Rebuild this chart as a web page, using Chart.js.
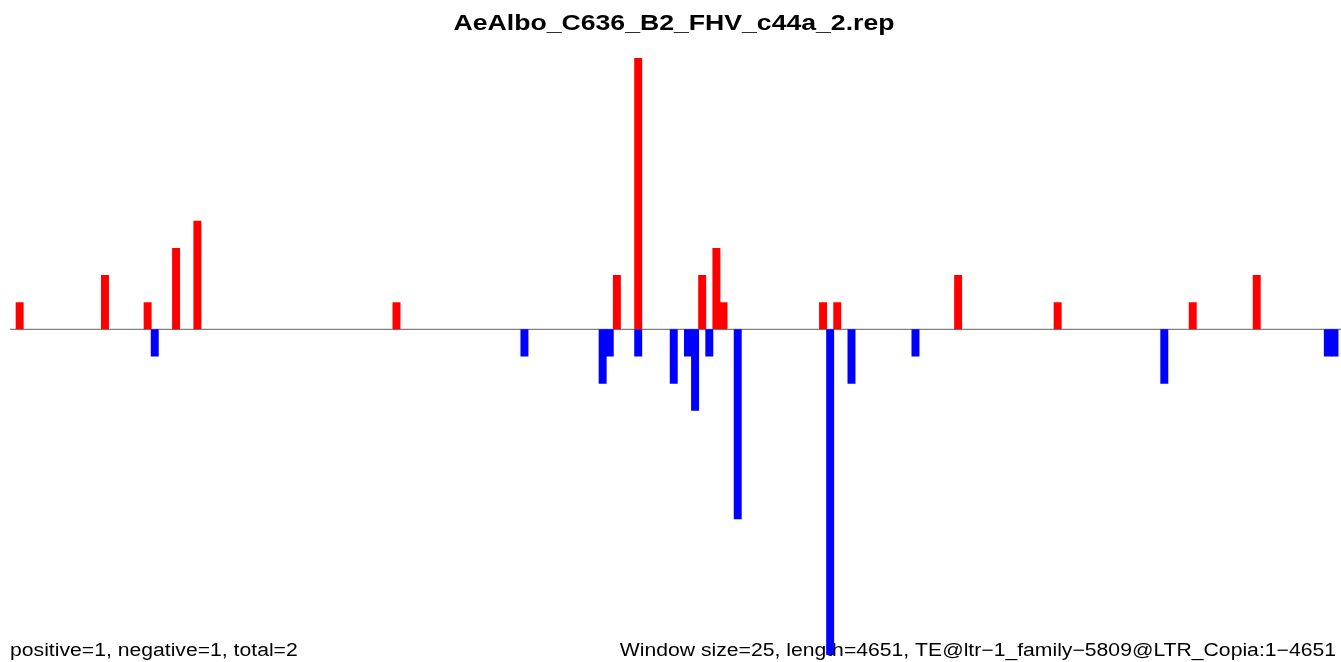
<!DOCTYPE html>
<html>
<head>
<meta charset="utf-8">
<script src="https://cdn.jsdelivr.net/npm/chart.js@4/dist/chart.umd.min.js"></script>
<style>
  html, body { margin: 0; padding: 0; background: #fff; }
  #wrap { width: 1341px; height: 662px; position: relative; }
</style>
</head>
<body>
<div id="wrap"><canvas id="grafico"></canvas></div>
<script>
const titulo = "AeAlbo_C636_B2_FHV_c44a_2.rep";
const textoIzq = "positive=1, negative=1, total=2";
const textoDer = "Window size=25, length=4651, TE@ltr\u22121_family\u22125809@LTR_Copia:1\u22124651";

// ventanas de 25 pb a lo largo de 4651 pb
const numVentanas = 187;

// lecturas en sentido positivo (rojo): ventana y cantidad
const posVentana = [1, 13, 19, 23, 26, 54, 85, 88, 97, 99, 100, 114, 116, 133, 147, 166, 175];
const posValor   = [1,  2,  1,  3,  4,  1,  2, 10,  2,  3,   1,   1,   1,   2,   1,   1,   2];

// lecturas en sentido negativo (azul)
const negVentana = [20, 72, 83, 84, 88, 93, 95, 96, 98, 102, 115, 118, 127, 162, 185, 186];
const negValor   = [-1, -1, -2, -1, -1, -2, -1, -3, -1,  -7, -12,  -2,  -1,  -2,  -1,  -1];

const etiquetas = [];
for (let i = 0; i < numVentanas; i++) etiquetas.push(i * 25 + 1);

function expandir(ventanas, valores) {
  const arr = new Array(numVentanas).fill(null);
  ventanas.forEach((v, i) => arr[v] = valores[i]);
  return arr;
}

// texto un poco ensanchado, como en el original
function texto(ctx, str, x, y, font, align, ancho) {
  ctx.save();
  ctx.font = font;
  ctx.textAlign = align;
  ctx.translate(x, y);
  ctx.scale(ancho, 1);
  ctx.fillText(str, 0, 0);
  ctx.restore();
}

const textos = {
  id: "textos",
  beforeDatasetsDraw(chart) {
    const ctx = chart.ctx;
    const y0 = chart.scales.y.getPixelForValue(0);
    ctx.save();
    // línea base
    ctx.strokeStyle = "#808080";
    ctx.lineWidth = 1.3;
    ctx.beginPath();
    ctx.moveTo(10, y0);
    ctx.lineTo(chart.width, y0);
    ctx.stroke();

    ctx.fillStyle = "#000";
    ctx.textBaseline = "alphabetic";
    texto(ctx, titulo, 674, 30, "bold 22px 'Liberation Sans', Arial, sans-serif", "center", 1.21);
    texto(ctx, textoIzq, 10, 656, "18px 'Liberation Sans', Arial, sans-serif", "left", 1.176);
    texto(ctx, textoDer, 1336, 656, "18px 'Liberation Sans', Arial, sans-serif", "right", 1.176);
    ctx.restore();
  }
};

new Chart(document.getElementById("grafico").getContext("2d"), {
  type: "bar",
  data: {
    labels: etiquetas,
    datasets: [
      { label: "positivo", data: expandir(posVentana, posValor), backgroundColor: "#ff0000" },
      { label: "negativo", data: expandir(negVentana, negValor), backgroundColor: "#0000ff" }
    ]
  },
  options: {
    responsive: true,
    maintainAspectRatio: false,
    animation: false,
    grouped: false,
    barPercentage: 1.12,
    categoryPercentage: 1,
    layout: { padding: { left: 9, right: 2.5, top: 58, bottom: 7 } },
    plugins: { legend: { display: false }, title: { display: false }, tooltip: { enabled: false } },
    scales: {
      x: { display: false, grid: { display: false } },
      y: { display: false, min: -12, max: 10, grid: { display: false } }
    }
  },
  plugins: [textos]
});
</script>
</body>
</html>
